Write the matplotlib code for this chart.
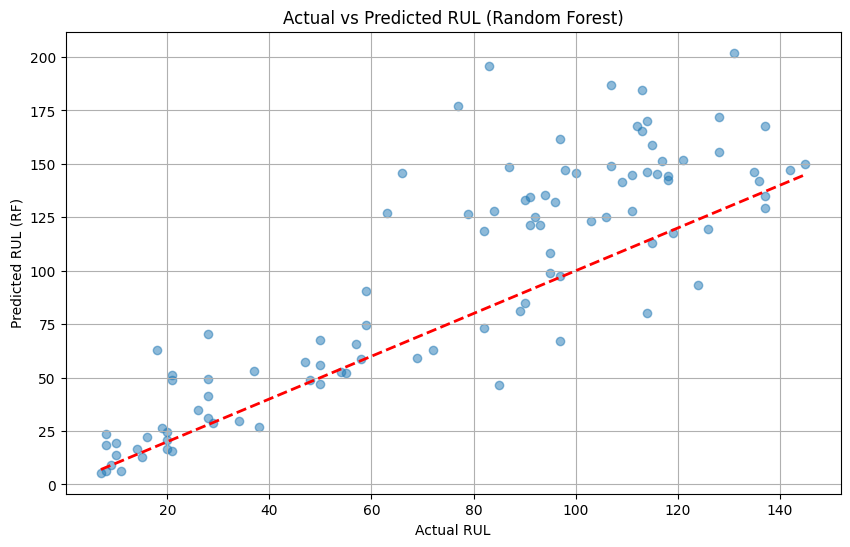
import numpy as np
import matplotlib
matplotlib.use("Agg")
import matplotlib.pyplot as plt

# values
actual_rul = [
    7, 8, 9, 11, 8, 8, 10, 10, 14, 15, 16, 18, 19, 20, 20, 20, 21, 21, 21,
    26, 28, 28, 28, 28, 29, 34, 37, 38, 47, 48, 50, 50, 50, 54, 55, 57,
    58, 59, 59, 63, 66, 69, 72, 77, 79, 82, 82, 83, 84, 85, 87, 89, 90,
    90, 91, 91, 92, 93, 94, 95, 95, 96, 97, 97, 97, 98, 100, 103, 106,
    107, 107, 109, 111, 111, 112, 113, 113, 114, 114, 114, 115, 115, 116,
    117, 118, 118, 119, 121, 124, 126, 128, 128, 131, 135, 136, 137, 137,
    137, 142, 145,
]
predicted_rul = [
    5.5, 6.4, 8.9, 6.4, 23.4, 18.7, 19.2, 13.9, 16.4, 12.9, 22.3, 62.7,
    26.5, 24.6, 20.6, 16.4, 15.8, 51.4, 49.0, 34.9, 70.5, 49.4, 41.2,
    30.9, 28.8, 29.9, 53.3, 26.7, 57.4, 49.0, 67.7, 56.1, 47.2, 52.7,
    52.2, 65.8, 58.5, 90.3, 74.7, 127.0, 145.8, 59.2, 62.7, 177.2, 126.7,
    118.6, 73.3, 195.9, 128.1, 46.6, 148.7, 81.2, 85.1, 133.1, 134.7,
    121.6, 125.3, 121.6, 135.6, 108.3, 99.0, 132.2, 67.3, 97.6, 161.8,
    147.3, 145.8, 123.5, 125.3, 186.9, 149.2, 141.5, 145.0, 128.1, 167.7,
    184.6, 165.4, 170.2, 146.2, 80.3, 158.8, 113.0, 145.4, 151.5, 144.2,
    142.3, 117.7, 152.0, 93.4, 119.6, 171.9, 155.6, 202.0, 146.2, 142.0,
    167.7, 135.0, 129.4, 147.3, 150.1,
]


def main():
    y_true = np.array(actual_rul)
    y_pred = np.array(predicted_rul)

    plt.figure(figsize=(10, 6))
    plt.scatter(y_true, y_pred, alpha=0.5)
    plt.plot([y_true.min(), y_true.max()], [y_true.min(), y_true.max()],
             'r--', lw=2)
    plt.xlabel("Actual RUL")
    plt.ylabel("Predicted RUL (RF)")
    plt.title("Actual vs Predicted RUL (Random Forest)")
    plt.grid(True)
    plt.savefig("out.png", bbox_inches='tight')


if __name__ == "__main__":
    main()
